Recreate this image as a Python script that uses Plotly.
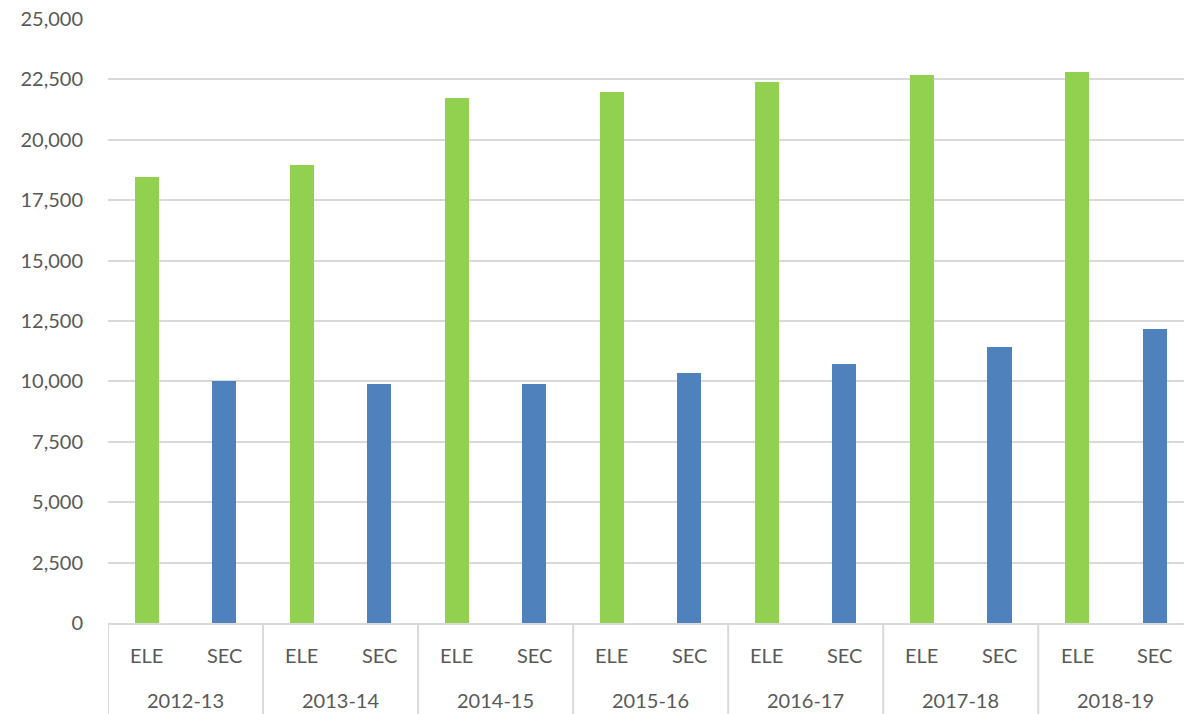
import plotly.graph_objects as go

years = ["2012-13", "2013-14", "2014-15", "2015-16", "2016-17", "2017-18", "2018-19"]
levels = ["ELE", "SEC"]
ele = [18460, 18960, 21730, 21970, 22380, 22700, 22810]
sec = [10020, 9900, 9890, 10350, 10720, 11420, 12170]
y_ticks = [0, 2500, 5000, 7500, 10000, 12500, 15000, 17500, 20000, 22500, 25000]

colors = {"ELE": "#92D050", "SEC": "#4F81BD"}

xs_year, xs_lvl, vals, cols = [], [], [], []
for i, yr in enumerate(years):
    for lvl, v in (("ELE", ele[i]), ("SEC", sec[i])):
        xs_year.append(yr)
        xs_lvl.append(lvl)
        vals.append(v)
        cols.append(colors[lvl])

fig = go.Figure(go.Bar(
    x=[xs_year, xs_lvl], y=vals,
    marker=dict(color=cols, line=dict(width=0)),
    width=0.31,
))

font_family = "Lato, 'Open Sans', sans-serif"
H, T, B = 714, 19, 91
plot_h = H - T - B

def py(pix):
    # pixel row below plot bottom -> paper coordinate
    return -(pix - (H - B)) / plot_h

annotations = []
shapes = []
n_lvl = len(levels)
for i, yr in enumerate(years):
    for j, lvl in enumerate(levels):
        idx = i * n_lvl + j
        annotations.append(dict(x=idx, y=py(655), xref="x", yref="paper",
                                text=lvl, showarrow=False, yanchor="middle",
                                font=dict(size=20, color="#595959")))
    center = i * n_lvl + (n_lvl - 1) / 2
    annotations.append(dict(x=center, y=py(700), xref="x", yref="paper",
                            text=yr, showarrow=False, yanchor="middle",
                            font=dict(size=20, color="#595959")))
    edge = i * n_lvl - 0.5
    shapes.append(dict(type="line", xref="x", yref="paper", x0=edge, x1=edge,
                       y0=0, y1=py(H), line=dict(color="#D9D9D9", width=2)))

fig.update_layout(
    width=1184, height=714,
    margin=dict(l=108, r=0, t=T, b=B),
    paper_bgcolor="white", plot_bgcolor="white",
    font=dict(family=font_family, size=20, color="#595959"),
    showlegend=False,
    bargap=0,
    annotations=annotations,
    shapes=shapes,
)
fig.update_xaxes(
    type="multicategory",
    range=[-0.5, 13.38],
    showline=True, linecolor="#D9D9D9", linewidth=2,
    showgrid=False, showdividers=False, showticklabels=False,
    ticks="",
)
fig.update_yaxes(
    range=[0, 25000],
    tickvals=y_ticks,
    tickformat=",",
    showgrid=True, gridcolor="#D9D9D9", gridwidth=2,
    zeroline=False, showline=False,
    ticks="", ticklabelstandoff=24,
    tickfont=dict(size=20, color="#595959"),
)

fig.write_html("out.html")
